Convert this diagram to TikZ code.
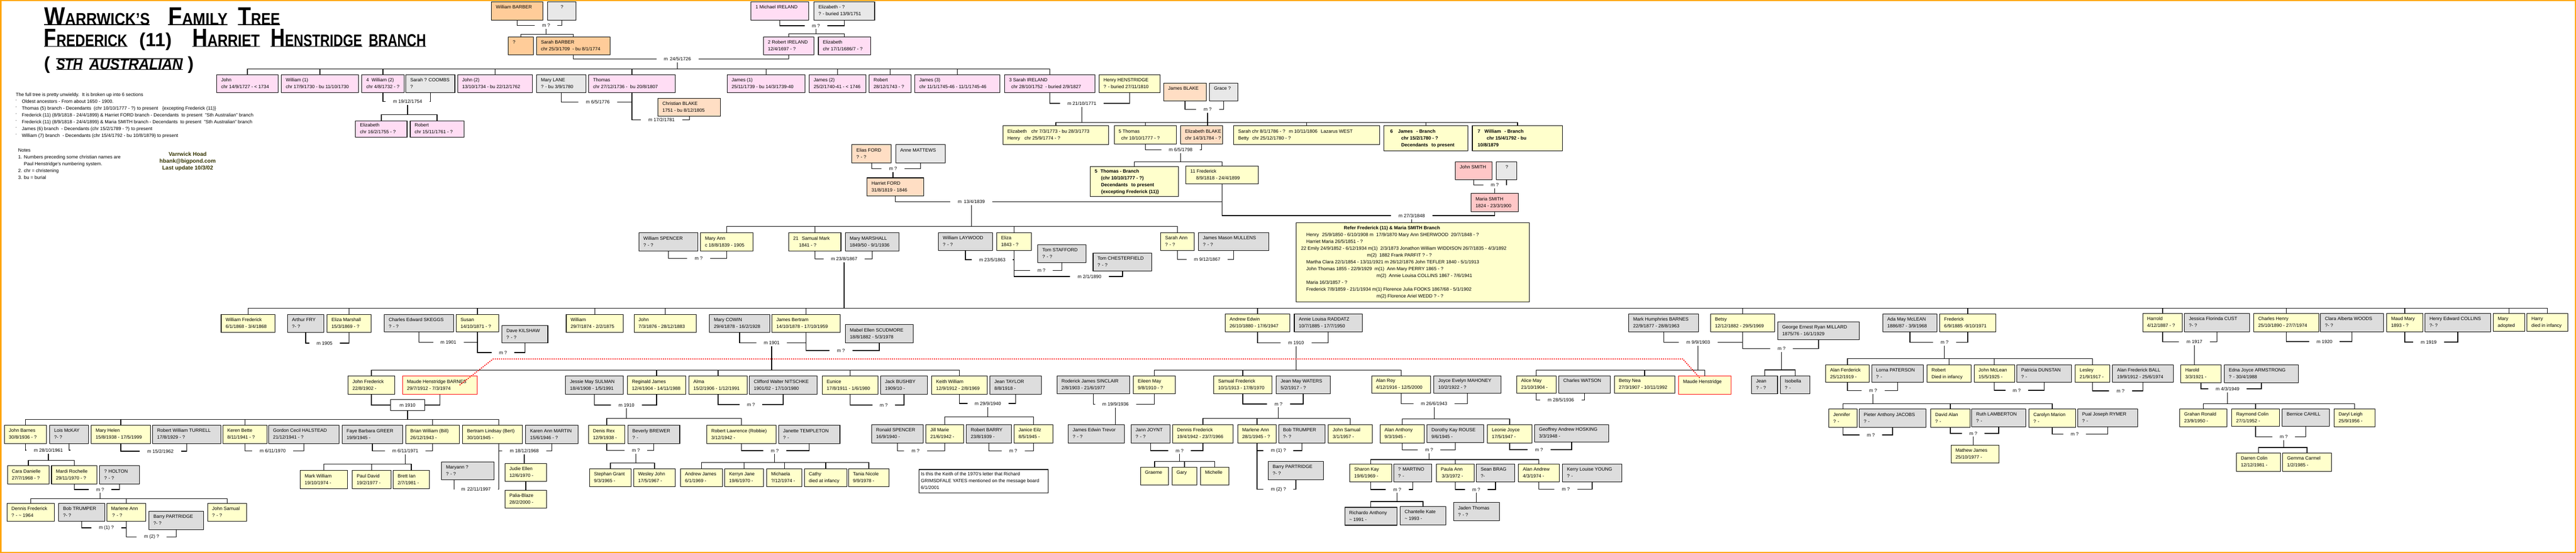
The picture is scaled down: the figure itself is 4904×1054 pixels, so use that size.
\documentclass[tikz,border=0pt]{standalone}
\usepackage{fontspec}
\setmainfont{Liberation Sans}
\usepackage{graphicx}
\usetikzlibrary{positioning}

\definecolor{pinkbox}{RGB}{255,221,244}
\definecolor{greyold}{RGB}{232,232,232}
\definecolor{greynew}{RGB}{221,221,221}
\definecolor{orangebox}{RGB}{255,204,153}
\definecolor{peachbox}{RGB}{255,222,196}
\definecolor{yellowbox}{RGB}{255,255,204}
\definecolor{smithbox}{RGB}{255,199,199}
\definecolor{frameorange}{RGB}{255,165,0}
\definecolor{olivetext}{RGB}{51,51,0}

\tikzset{
  pers/.style={rectangle,draw=black,line width=1.3pt,inner xsep=8.5pt,inner ysep=0pt,outer sep=0pt,font=\fontsize{9}{13}\selectfont},
  pk/.style={fill=pinkbox}, gra/.style={fill=greyold}, grb/.style={fill=greynew},
  org/.style={fill=orangebox}, pch/.style={fill=peachbox}, yel/.style={fill=yellowbox},
  smi/.style={fill=smithbox}, note/.style={fill=white},
  bold/.style={font=\fontsize{9}{13}\selectfont\bfseries},
  redline/.style={draw=red},
  link/.style={line width=1.3pt},
  mlab/.style={inner xsep=14pt,inner ysep=3pt,font=\fontsize{9}{13}\selectfont},
  mbox/.style={mlab,draw,fill=white,line width=1.3pt,minimum width=65pt,minimum height=20.5pt,inner xsep=2pt},
  reddot/.style={red,line width=1.8pt,dash pattern=on 2pt off 2pt},
  ttl/.style={anchor=base west,inner sep=0pt,font=\bfseries},
  txt/.style={inner sep=0pt,font=\fontsize{9}{13}\selectfont}
}

% person box: name, style, x1, y1, x2, y2, lines
\newcommand{\per}[7]{\node[pers,#2,minimum width={#5pt-#3pt},minimum height={#6pt-#4pt}] (#1) at ({(#3+#5)/2},{(#4+#6)/2}) {\makebox[\dimexpr#5pt-#3pt-17pt\relax][l]{\begin{tabular}{@{}l@{}}#7\end{tabular}}};}
% marriage label
\newcommand{\mar}[4]{\node[mlab] (#1) at (#2,#3) {#4};}
% marriage connector
\newcommand{\wed}[3]{\draw[link] (#1.south) |- (#2.west); \draw[link] (#2.east) -| (#3.south);}
% children bar: label, bar y, first, last, middle
\newcommand{\sibs}[5]{\coordinate (b#1) at (0,#2);
  \draw[link] (#1.south) -- (#1.south |- b#1);
  \draw[link] (#3.north) |- (b#1 -| #4.north) -- (#4.north);
  \foreach \kid in {#5} {\draw[link] (\kid.north) -- (\kid.north |- b#1);}}
\newcommand{\onekid}[2]{\draw[link] (#1.south) -- (#1.south |- #2.north);}
\newcommand{\bigsc}[2]{{\fontsize{48}{48}\selectfont#1}{\fontsize{32}{32}\selectfont#2}}
\newcommand{\dotmark}{\raisebox{3.5pt}{\fontsize{4}{4}\selectfont\textbullet}}

\begin{document}
\begin{tikzpicture}[x=1pt,y=-1pt]
\useasboundingbox (0,0) rectangle (4904,1054);
\draw[frameorange,line width=2.5pt] (1.25,1.25) rectangle (4902.75,1052.75);

% title
\node[ttl] (tw1) at (84,47.3) {\resizebox{201pt}{\height}{\bigsc{W}{ARRWICK'S}}};
\node[ttl] (tw2) at (320,47.3) {\resizebox{113pt}{\height}{\bigsc{F}{AMILY}}};
\node[ttl] (tw3) at (453,47.3) {\resizebox{80pt}{\height}{\bigsc{T}{REE}}};
\node[ttl] (tf1) at (83.7,88.6) {\resizebox{158.5pt}{\height}{\bigsc{F}{REDERICK}}};
\node[ttl] (tf2) at (265.7,88.6) {\resizebox{61pt}{\height}{\fontsize{36}{36}\selectfont(11)}};
\node[ttl] (tf3) at (366.1,88.6) {\resizebox{128pt}{\height}{\bigsc{H}{ARRIET}}};
\node[ttl] (tf4) at (515.2,88.6) {\resizebox{174pt}{\height}{\bigsc{H}{ENSTRIDGE}}};
\node[ttl] (tf5) at (701.9,88.6) {\resizebox{108.8pt}{\height}{\fontsize{33}{33}\selectfont BRANCH}};
\node[ttl] (ts1) at (83.7,132.5) {\fontsize{34}{34}\selectfont(};
\node[ttl] (ts2) at (107.2,132.5) {\resizebox{49.7pt}{\height}{\fontsize{29}{29}\selectfont\itshape STH}};
\node[ttl] (ts3) at (170,132.5) {\resizebox{177.8pt}{\height}{\fontsize{29}{29}\selectfont\itshape AUSTRALIAN}};
\node[ttl] (ts4) at (357.2,132.5) {\fontsize{34}{34}\selectfont)};
\foreach \w in {tw1,tw2,tw3,tf1,tf3,tf4,tf5,ts2,ts3} {\draw[line width=1.8pt] (\w.base west) -- (\w.base east);}
\foreach \w in {ts2,ts3} {\draw[line width=1.8pt] (\w.north west) -- (\w.north east);}

% notes
\node[txt,anchor=north west] (intro) at (30,173.7) {\begin{tabular}{@{}p{11.3pt}@{}l@{}}
\multicolumn{2}{@{}l@{}}{The full tree is pretty unwieldy.\ \ It is broken up into 6 sections}\\
\dotmark & Oldest ancestors - From about 1650 - 1900.\\
\dotmark & Thomas (5) branch - Decendants\ \ (chr 10/10/1777 - ?) to present\hspace{8pt}\{excepting Frederick (11)\}\\
\dotmark & Frederick (11) (8/9/1818 - 24/4/1899) \& Harriet FORD branch - Decendants\ \ to present\ \ "Sth Australian" branch\\
\dotmark & Frederick (11) (8/9/1818 - 24/4/1899) \& Maria SMITH branch - Decendants\ \ to present\ \ "Sth Australian" branch\\
\dotmark & James (6) branch\ \ - Decendants (chr 15/2/1789 - ?) to present\\
\dotmark & William (7) branch\ \ - Decendants (chr 15/4/1792 - bu 10/8/1879) to present
\end{tabular}};
\node[txt,anchor=north west] (notes) at (34.5,279.9) {\begin{tabular}{@{}p{11pt}@{}l@{}}
\multicolumn{2}{@{}l@{}}{Notes}\\
1. & Numbers preceding some christian names are\\
 & Paul Henstridge's numbering system.\\
2. & chr = christening\\
3. & bu = burial
\end{tabular}};
\node[txt,anchor=north,align=center,text=olivetext,font=\fontsize{10.5}{13}\selectfont\bfseries] (contact) at (357.2,289.5) {Varrwick Hoad\\hbank@bigpond.com\\Last update 10/3/02};

% oldest generations
\per{wbarber}{org}{935.6}{3.4}{1033.4}{38.2}{William BARBER\\~}
\per{barberw}{gra}{1042.8}{3.4}{1096.7}{38.2}{\hspace{16pt}?\\~}
\per{sbarsib}{org}{967.5}{70.3}{1015.6}{104.5}{?\\~}
\per{sbarber}{org}{1021.4}{70.3}{1161.5}{104.5}{Sarah BARBER\\chr 25/3/1709\ \ - bu 8/1/1774}
\per{mireland}{pk}{1429.8}{3.4}{1539.7}{38.2}{1 Michael IRELAND\\~}
\per{elizq}{gra}{1549.6}{3.4}{1665}{38.2}{Elizabeth - ?\\? - buried 13/9/1751}
\per{rireland}{pk}{1453.4}{70.3}{1549.6}{104.5}{2 Robert IRELAND\\12/4/1697 - ?}
\per{elizrob}{pk}{1558}{70.3}{1657.3}{104.5}{Elizabeth\\chr 17/1/1686/7 - ?}
\mar{mbarber}{1039.7}{48.5}{m ?}
\mar{mmichael}{1553.3}{49}{m ?}
\mar{m1726}{1289.7}{112.5}{m\hspace{4pt}24/5/1726}

\per{john}{pk}{412.7}{142.3}{529.3}{176.5}{John\\chr 14/9/1727 - < 1734}
\per{william1}{pk}{535.6}{142.3}{682.5}{176.5}{William (1)\\chr 17/9/1730 - bu 11/10/1730}
\per{william2}{pk}{688.8}{142.3}{769.4}{176.5}{4\ \ William (2)\\chr 4/8/1732 - ?}
\per{coombs}{gra}{772.5}{142.3}{866}{176.5}{Sarah ? COOMBS\\?}
\per{john2}{pk}{871.3}{142.3}{1013.5}{176.5}{John (2)\\13/10/1734 - bu 22/12/1762}
\per{mlane}{gra}{1021.4}{142.3}{1115.5}{176.5}{Mary LANE\\? - bu 3/9/1780}
\per{thomas}{pk}{1120.7}{142.3}{1285.5}{176.5}{Thomas\\chr 27/12/1736 -\ \ bu 20/8/1807}
\per{james1}{pk}{1384.3}{142.3}{1532.3}{176.5}{James (1)\\25/11/1739 - bu 14/3/1739-40}
\per{james2}{pk}{1540.7}{142.3}{1648.4}{176.5}{James (2)\\25/2/1740-41 - < 1746}
\per{robert}{pk}{1654.6}{142.3}{1734.7}{176.5}{Robert\\28/12/1743 - ?}
\per{james3}{pk}{1741.5}{142.3}{1903.6}{176.5}{James (3)\\chr 11/1/1745-46 - 11/1/1745-46}
\per{sireland}{pk}{1912.5}{142.3}{2084.6}{176.5}{3 Sarah IRELAND\\\hspace{4pt}chr 28/10/1752\ \ - buried 2/9/1827}
\per{hhenstridge}{yel}{2092.4}{142.3}{2208.5}{176.5}{Henry HENSTRIDGE\\? - buried 27/11/1810}
\per{cblake}{pch}{1252.5}{187.3}{1371.8}{221.4}{Christian BLAKE\\1751 - bu 8/12/1805}
\per{jblake}{pch}{2215.3}{158.2}{2296.4}{192.7}{James BLAKE\\~}
\per{grace}{gra}{2302.7}{158.2}{2356.5}{192.7}{Grace ?\\~}
\per{elizw}{pk}{676.8}{230.2}{775.1}{261.3}{Elizabeth\\chr 16/2/1755 - ?}
\per{robertw}{pk}{780.9}{230.2}{883.3}{261.3}{Robert\\chr 15/11/1761 - ?}
\mar{m1754}{776}{193.4}{m 19/12/1754}
\mar{m1776}{1138}{194.5}{m 6/5/1776}
\mar{m1781}{1259.3}{228.5}{m 17/2/1781}
\mar{m1771}{2059.5}{197}{m 21/10/1771}
\mar{mblake}{2299}{208.5}{m ?}

\per{elizhenry}{yel}{1909.3}{239.4}{2110.7}{275.5}{Elizabeth\hspace{6pt} chr 7/3/1773 - bu 28/3/1773\\Henry\hspace{6pt} chr 25/9/1774 - ?}
\per{thomas5}{yel}{2121.2}{239.4}{2239.4}{274.5}{5 Thomas\\\hspace{5pt}chr 10/10/1777 - ?}
\per{eblake}{pch}{2247.7}{239.4}{2327.8}{274.5}{Elizabeth BLAKE\\chr 14/3/1784 - ?}
\per{sarahbetty}{yel}{2348.7}{239.4}{2626.3}{275.5}{Sarah chr 8/1/1786 - ?\hspace{7pt}m 10/11/1806\hspace{4pt} Lazarus WEST\\Betty\hspace{4pt} chr 25/12/1780 - ?}
\per{james6}{yel,bold}{2634.2}{239.4}{2794.7}{287.4}{\hspace{4pt}6\hspace{10pt}James\hspace{4pt} - Branch\\\hspace{25pt}chr 15/2/1780 - ?\\\hspace{25pt}Decendants\hspace{4pt} to present}
\per{william7}{yel,bold}{2803.1}{239.4}{2974.6}{287.4}{\hspace{1.5pt}7\hspace{8pt}William\hspace{4pt} - Branch\\\hspace{18.7pt}chr 15/4/1792 - bu\\\hspace{1.5pt}10/8/1879}
\mar{m1798}{2247.7}{285.5}{m 6/5/1798}
\per{thomasbranch}{yel,bold}{2075.7}{317.8}{2243.6}{374.2}{5\hspace{6pt}Thomas - Branch\\\hspace{12pt}(chr 10/10/1777 - ?)\\\hspace{12pt}Decendants\hspace{4pt} to present\\\hspace{12pt}\{excepting Frederick (11)\}}
\per{fred11}{yel}{2257.7}{316.8}{2395.8}{350.2}{11 Frederick\\\hspace{11pt}8/9/1818 - 24/4/1899}

\per{eford}{pch}{1621.8}{275.5}{1696.5}{310.3}{Elias FORD\\? - ?}
\per{amattews}{gra}{1705.4}{275.5}{1799.5}{310.3}{Anne MATTEWS\\~}
\mar{mford}{1700}{321.5}{m ?}
\per{hford}{pch}{1650.5}{339.1}{1758.7}{373.2}{Harriet FORD\\31/8/1819 - 1846}
\per{jsmith}{smi}{2770.7}{308.3}{2840.8}{342.5}{John SMITH\\~}
\per{smithw}{gra}{2848.6}{308.3}{2887.3}{342.5}{\hspace{9pt}?\\~}
\mar{msmith}{2845.5}{352.5}{m ?}
\per{msmithb}{smi}{2800.5}{368.5}{2890.4}{403.3}{Maria SMITH\\1824 - 23/3/1900}
\mar{m1839}{1849.2}{384.5}{m\hspace{4pt}13/4/1839}
\mar{m1848}{2687.5}{411}{m 27/3/1848}
\per{refer}{yel}{2467.3}{424.3}{2911.4}{575.2}{\hspace{82.5pt}\textbf{Refer Frederick (11) \& Maria SMITH Branch}\\
\hspace{11pt}Henry\hspace{6pt}25/9/1850 - 6/10/1908 m\hspace{5pt}17/9/1870 Mary Ann SHERWOOD\hspace{5pt}20/7/1848 - ?\\
\hspace{11pt}Harriet Maria 26/5/1851 - ?\\
\hspace{1pt}22 Emily 24/9/1852 - 6/12/1934 m(1)\hspace{5pt}2/3/1873 Jonathon William WIDDISON 26/7/1835 - 4/3/1892\\
\hspace{126.5pt}m(2)\hspace{5pt}1882 Frank PARFIT ? - ?\\
\hspace{11pt}Martha Clara 22/1/1854 - 13/11/1921 m 26/12/1876 John TEFLER 1840 - 5/1/1913\\
\hspace{11pt}John Thomas 1855 - 22/9/1929\hspace{5pt}m(1)\hspace{5pt}Ann Mary PERRY 1865 - ?\\
\hspace{144.8pt}m(2)\hspace{5pt}Annie Louisa COLLINS 1867 - 7/6/1941\\
\hspace{11pt}Maria 16/3/1857 - ?\\
\hspace{11pt}Frederick 7/8/1859 - 21/1/1934 m(1) Florence Julia FOOKS 1867/68 - 5/1/1902\\
\hspace{144.8pt}m(2) Florence Ariel WEDD ? - ?}

% Frederick & Harriet FORD children
\per{wspencer}{grb}{1216.4}{443.5}{1328.4}{478.4}{William SPENCER\\? - ?}
\per{maryann}{yel}{1333.6}{443.5}{1433.5}{478.4}{Mary Ann\\c 18/8/1839 - 1905}
\mar{mspencer}{1330}{492.5}{m ?}
\per{samual}{yel}{1501.5}{443.5}{1600.9}{478.4}{21\hspace{4pt} Samual Mark\\\hspace{11pt}1841 - ?}
\per{mmarshall}{grb}{1609.2}{443.5}{1711.7}{478.4}{Mary MARSHALL\\1849/50 - 9/1/1936}
\mar{m1867a}{1607}{493.5}{m 23/8/1867}
\per{laywood}{grb}{1786.4}{443.5}{1889.5}{477.3}{William LAYWOOD\\? - ?}
\per{eliza}{yel}{1897.3}{443.5}{1963.7}{477.3}{Eliza\\1843 - ?}
\mar{m1863}{1889}{495}{m 23/5/1863}
\per{stafford}{grb}{1975.8}{466.5}{2067.3}{500.3}{Tom STAFFORD\\? - ?}
\mar{mstafford}{1982.6}{515.5}{m ?}
\per{chesterfield}{grb}{2080.9}{482.8}{2192.8}{516.6}{Tom CHESTERFIELD\\? - ?}
\mar{m1890}{2074}{527}{m 2/1/1890}
\per{sarahann}{yel}{2209.6}{443.5}{2273.4}{477.3}{Sarah Ann\\? - ?}
\per{mullens}{grb}{2281.7}{443.5}{2415.6}{477.3}{James Mason MULLENS\\? - ?}
\mar{m1867b}{2298}{494.5}{m 9/12/1867}

% Samual Mark & Mary MARSHALL children
\per{wfred}{yel}{421}{599.4}{523.4}{633.4}{William Frederick\\6/1/1868 - 3/4/1868}
\per{afry}{grb}{547.4}{599.4}{616.8}{633.4}{Arthur FRY\\?- ?}
\per{elizam}{yel}{622.5}{599.4}{706.5}{633.4}{Eliza Marshall\\15/3/1869 - ?}
\mar{m1905}{617.8}{654}{m 1905}
\per{skeggs}{grb}{731.5}{599.4}{863.2}{632.4}{Charles Edward SKEGGS\\? - ?}
\per{susan}{yel}{868.3}{599.4}{949.5}{632.4}{Susan\\14/10/1871 - ?}
\mar{m1901a}{853.7}{652.8}{m 1901}
\per{kilshaw}{grb}{955.7}{620.5}{1043}{653.5}{Dave KILSHAW\\? - ?}
\mar{mkilshaw}{957.5}{672}{m ?}
\per{william}{yel}{1077.9}{599.4}{1186.5}{633.4}{William\\29/7/1874 - 2/2/1875}
\per{john3}{yel}{1207.2}{599.4}{1325.7}{633.4}{John\\7/3/1876 - 28/12/1883}
\per{mcowin}{grb}{1350.7}{599.4}{1465.4}{633.4}{Mary COWIN\\29/4/1878 - 16/2/1928}
\per{jbertram}{yel}{1469.6}{599.4}{1599.4}{633.4}{James Bertram\\14/10/1878 - 17/10/1959}
\mar{m1901b}{1469.1}{653.5}{m 1901}
\per{scudmore}{grb}{1609.3}{618.4}{1738.6}{653.5}{Mabel Ellen SCUDMORE\\18/8/1882 - 5/3/1978}
\mar{mscud}{1600.8}{668}{m ?}
\per{aedwin}{yel}{2332.3}{598.3}{2455.5}{632.4}{Andrew Edwin\\26/10/1880 - 17/6/1947}
\per{raddatz}{grb}{2464}{598.3}{2593.3}{632.4}{Annie Louisa RADDATZ\\10/7/1885 - 17/7/1950}
\mar{m1910c}{2467.3}{653.5}{m 1910}
\per{mbarnes}{grb}{3100.6}{598.3}{3233.7}{632.4}{Mark Humphries BARNES\\22/9/1877 - 28/8/1963}
\per{betsy}{yel}{3256.4}{598.3}{3378.4}{632.4}{Betsy\\12/12/1882 - 29/5/1969}
\mar{m1903}{3232.8}{652.5}{m 9/9/1903}
\per{millard}{grb}{3384.4}{613.3}{3539.6}{647.7}{George Ernest Ryan MILLARD\\1875/76 - 16/1/1929}
\mar{mmillard}{3391.5}{664.5}{m ?}
\per{amclean}{grb}{3584.4}{598.3}{3687.7}{632.4}{Ada May McLEAN\\1886/87 - 3/9/1968}
\per{frederick}{yel}{3692.7}{598.3}{3799.5}{632.4}{Frederick\\6/9/1885 -9/10/1971}
\mar{mmclean}{3701.8}{652.5}{m ?}
\per{harrold}{yel}{4079.1}{597.3}{4154.5}{632.4}{Harrold\\4/12/1887 - ?}
\per{cust}{grb}{4158.5}{597.3}{4282.5}{632.4}{Jessica Florinda CUST\\?- ?}
\mar{m1917}{4177.5}{651.5}{m 1917}
\per{chenry}{yel}{4290.5}{597.3}{4414.5}{632.4}{Charles Henry\\25/10/1890 - 27/7/1974}
\per{woods}{grb}{4417.5}{597.3}{4537.5}{632.4}{Clara Alberta WOODS\\?- ?}
\mar{m1920}{4425}{651}{m 1920}
\per{maudm}{yel}{4543.5}{597.3}{4612.5}{632.4}{Maud Mary\\1893 - ?}
\per{collins}{grb}{4616.5}{597.3}{4741.5}{632.4}{Henry Edward COLLINS\\?- ?}
\mar{m1919}{4623.5}{652}{m 1919}
\per{maryad}{yel}{4746.5}{597.3}{4806.5}{631.4}{Mary\\adopted}
\per{harry}{yel}{4810.5}{597.3}{4888.5}{631.4}{Harry\\died in infancy}

% next generation
\per{johnf}{yel}{662.6}{716.5}{751.3}{751.6}{John Frederick\\22/8/1902 -}
\per{maudeb}{yel,redline}{766.4}{716.5}{908.5}{751.6}{Maude Henstridge BARNES\\29/7/1912 - 7/3/1974}
\node[mbox] (m1910a) at (775.85,772.05) {m 1910};
\per{sulman}{grb}{1076.5}{716.5}{1186.5}{751.6}{Jessie May SULMAN\\18/4/1908 - 1/5/1991}
\per{reginald}{yel}{1194.5}{716.5}{1305.4}{751.6}{Reginald James\\12/4/1904 - 14/11/1988}
\mar{m1910b}{1192.6}{772}{m 1910}
\per{alma}{yel}{1311.5}{716.5}{1422.4}{751.6}{Alma\\15/2/1906 - 1/12/1991}
\per{nitschke}{grb}{1426.7}{716.5}{1555.5}{751.6}{Clifford Walter NITSCHKE\\1901/02 - 17/10/1980}
\mar{malma}{1429.5}{771}{m ?}
\per{eunice}{yel}{1565.4}{716.5}{1671.6}{751.6}{Eunice\\17/8/1911 - 1/6/1980}
\per{bushby}{grb}{1676.3}{716.5}{1765.5}{751.6}{Jack BUSHBY\\1909/10 -}
\mar{meunice}{1682.4}{772}{m ?}
\per{keith}{yel}{1773.5}{716.5}{1879.3}{751.6}{Keith William\\12/9/1912 - 2/8/1969}
\per{jtaylor}{grb}{1884.5}{716.5}{1982.6}{751.6}{Jean TAYLOR\\8/8/1918 -}
\mar{m1940}{1880.7}{769}{m 29/9/1940}
\per{sinclair}{grb}{2012.3}{716.5}{2150.6}{750.6}{Roderick James SINCLAIR\\2/8/1903 - 21/6/1977}
\per{eileen}{yel}{2157.7}{716.5}{2237.4}{750.6}{Eileen May\\9/8/1910 - ?}
\mar{m1936a}{2123.7}{770.5}{m 19/9/1936}
\per{samfred}{yel}{2310.6}{716.5}{2421.5}{750.6}{Samual Frederick\\10/1/1913 - 17/8/1970}
\per{waters}{grb}{2429.5}{716.5}{2532.4}{750.6}{Jean May WATERS\\5/2/1917 - ?}
\mar{mwaters}{2433.8}{770}{m ?}
\per{alanroy}{yel}{2611.2}{716.5}{2723.6}{749.2}{Alan Roy\\4/12/1916 - 12/5/2000}
\per{mahoney}{grb}{2729.7}{716.5}{2857.6}{749.2}{Joyce Evelyn MAHONEY\\10/2/1922 - ?}
\mar{m1943}{2730.2}{769.5}{m 26/6/1943}
\per{alicem}{yel}{2887.3}{716.5}{2962.3}{749.2}{Alice May\\21/10/1904 -}
\per{watson}{grb}{2967.5}{716.5}{3065.7}{749.2}{Charles WATSON\\~}
\mar{m1936b}{2971.3}{762.5}{m 28/5/1936}
\per{betsynea}{yel}{3073.3}{716.5}{3188.4}{749.2}{Betsy Nea\\27/3/1907 - 10/11/1992}
\per{maude}{yel,redline}{3195.5}{716.5}{3295.5}{751.6}{Maude Henstridge\\~}
\per{jeanm}{grb}{3334.5}{716.5}{3383.9}{750.2}{Jean\\? - ?}
\per{isobella}{grb}{3389.4}{716.5}{3445.4}{750.2}{Isobella\\? -}
\per{alanfer}{yel}{3475.6}{695.4}{3558.2}{728.4}{Alan Ferderick\\25/12/1919 -}
\per{paterson}{grb}{3563.2}{695.4}{3661.5}{728.4}{Lorna PATERSON\\? -}
\mar{mpaterson}{3565.8}{744.5}{m ?}
\per{robertd}{yel}{3668.5}{695.4}{3752.2}{728.4}{Robert\\Died in infancy}
\per{jmclean}{yel}{3758.2}{695.4}{3835.3}{728.4}{John McLean\\15/5/1925 -}
\per{dunstan}{grb}{3839.3}{695.4}{3943.6}{728.4}{Patricia DUNSTAN\\? -}
\mar{mdunstan}{3839.3}{744}{m ?}
\per{lesley}{yel}{3950.7}{695.4}{4016.1}{728.4}{Lesley\\21/9/1917 -}
\per{ball}{grb}{4021.7}{695.4}{4137.5}{728.4}{Alan Frederick BALL\\19/9/1912 - 25/6/1974}
\mar{mball}{4036.8}{745}{m ?}
\per{harold}{yel}{4151.5}{695.4}{4228.5}{729.5}{Harold\\3/3/1921 -}
\per{armstrong}{grb}{4234.5}{695.4}{4375.5}{729.5}{Edna Joyce ARMSTRONG\\? - 30/4/1988}
\mar{m1949}{4240.5}{741}{m 4/3/1949}

% John Frederick & Maude line
\per{jbarnes}{yel}{8.3}{810.3}{88.6}{845.3}{John Barnes\\30/8/1936 - ?}
\per{mckay}{grb}{94.5}{810.3}{168.4}{845.3}{Lois McKAY\\?- ?}
\mar{m1961}{92.1}{858}{m 28/10/1961}
\per{maryhelen}{yel}{173.6}{810.3}{286.3}{845.3}{Mary Helen\\15/8/1938 - 17/5/1999}
\per{turrell}{grb}{290.6}{810.3}{420.3}{845.3}{Robert William TURRELL\\17/8/1929 - ?}
\mar{m1962}{305.3}{860}{m 15/2/1962}
\per{keren}{yel}{424.3}{810.3}{508.5}{845.3}{Keren Bette\\8/11/1941 - ?}
\per{halstead}{grb}{511.3}{810.3}{645.6}{845.3}{Gordon Cecil HALSTEAD\\21/12/1941 - ?}
\mar{m1970a}{519.2}{859.2}{m 6/11/1970}
\per{greer}{grb}{651.3}{810.5}{766.4}{845.3}{Faye Barbara GREER\\19/9/1945 -}
\per{brian}{yel}{772.6}{810.5}{874.5}{845.3}{Brian William (Bill)\\26/12/1943 -}
\mar{m1971}{771.6}{859.5}{m 6/11/1971}
\per{bertram}{yel}{880.6}{810.5}{994.3}{845.3}{Bertram Lindsay (Bert)\\30/10/1945 -}
\per{martin}{grb}{1000.5}{810.5}{1100.5}{845.3}{Karen Ann MARTIN\\15/6/1946 - ?}
\mar{m1968}{998.1}{859.2}{m 18/12/1968}
\per{maryann2}{grb}{840.5}{880.4}{940.6}{914.4}{Maryann ?\\? - ?}
\mar{m1997}{906.1}{932.5}{m\hspace{4pt}22/11/1997}
\per{markw}{yel}{571.5}{896.4}{661.6}{931.5}{Mark William\\19/10/1974 -}
\per{pauld}{yel}{670.6}{896.4}{744.7}{931.5}{Paul David\\19/2/1977 -}
\per{brett}{yel}{748.5}{896.4}{817.4}{931.5}{Brett Ian\\2/7/1981 -}
\per{judie}{yel}{961.3}{883.8}{1040.6}{917.5}{Judie Ellen\\12/6/1970 -}
\per{palia}{yel}{961.3}{934.5}{1040.6}{968.2}{Palia-Blaze\\28/2/2000 -}
\per{cara}{yel}{14.2}{887.3}{93.7}{922.7}{Cara Danielle\\27/7/1968 - ?}
\per{mardi}{yel}{98.1}{887.3}{184.7}{922.7}{Mardi Rochelle\\29/11/1970 - ?}
\per{holton}{grb}{189.8}{887.3}{265.7}{922.7}{? HOLTON\\? - ?}
\mar{mholton}{190.6}{933}{m ?}
\per{dennisb}{yel}{13.4}{959.3}{103.6}{993.7}{Dennis Frederick\\? - \textasciitilde{} 1964}
\per{trumperb}{grb}{111.5}{959.3}{199.3}{993.7}{Bob TRUMPER\\?- ?}
\per{marleneb}{yel}{203.2}{959.3}{277.6}{993.7}{Marlene Ann\\\hspace{2pt}? - ?}
\per{partridgeb}{grb}{283.5}{974.3}{387.5}{1009.3}{Barry PARTRIDGE\\?- ?}
\per{jsamualb}{yel}{395.4}{959.3}{469.7}{993.7}{John Samual\\? - ?}
\mar{m1tb}{202.5}{1006}{m (1) ?}
\mar{m2pb}{288.6}{1023.5}{m (2) ?}

% Reginald, Keith, Samual Frederick, Alan Roy lines
\per{denis}{yel}{1120.4}{810.5}{1189.3}{845.3}{Denis Rex\\12/9/1938 -}
\per{brewer}{grb}{1195.4}{810.5}{1294}{845.3}{Beverly BREWER\\? -}
\mar{mbrewer}{1210.5}{858.5}{m ?}
\per{robertl}{yel}{1345.5}{810.5}{1477.2}{845.3}{Robert Lawrence (Robbie)\\3/12/1942 -}
\per{templeton}{grb}{1482.3}{810.5}{1598.9}{845.3}{Janette TEMPLETON\\? -}
\mar{mtempleton}{1474.8}{859}{m ?}
\per{stephan}{yel}{1122.3}{893.3}{1201.6}{927.4}{Stephan Grant\\9/3/1965 -}
\per{wesley}{yel}{1206.3}{893.3}{1285.6}{927.4}{Wesley John\\17/5/1967 -}
\per{andrewj}{yel}{1295.5}{893.3}{1375.7}{927.4}{Andrew James\\6/1/1969 -}
\per{kerryn}{yel}{1379.5}{893.3}{1453.6}{927.4}{Kerryn Jane\\19/6/1970 -}
\per{michaela}{yel}{1459.7}{893.3}{1526.7}{927.4}{Michaela\\?/12/1974 -}
\per{cathy}{yel}{1531.4}{893.3}{1612.6}{927.4}{Cathy\\died at infancy}
\per{tania}{yel}{1615.4}{893.3}{1692.4}{927.4}{Tania Nicole\\9/9/1978 -}
\per{rspencer}{grb}{1659.3}{809.5}{1757.5}{844.2}{Ronald SPENCER\\16/9/1940 -}
\per{jill}{yel}{1762.7}{809.5}{1834.4}{844.2}{Jill Marie\\21/6/1942 -}
\mar{mjill}{1742.8}{859.4}{m ?}
\per{rbarry}{grb}{1839.6}{809.5}{1925.5}{844.2}{Robert BARRY\\23/8/1939 -}
\per{janice}{yel}{1930.7}{809.5}{2004.3}{844.2}{Janice Eilz\\8/5/1945 -}
\mar{mjanice}{1928.8}{859.5}{m ?}
\per{keithnote}{note}{1749.5}{895}{1995.4}{939.3}{\hspace{-5pt}Is this the Keith of the 1970's letter that Richard\\\hspace{-5pt}GRIMSDFALE YATES mentioned on the message board\\\hspace{-5pt}6/1/2001}
\per{jetrevor}{grb}{2033.6}{809.5}{2140.7}{844.2}{James Edwin Trevor\\? - ?}
\per{jjoynt}{grb}{2153.4}{809.5}{2227.5}{844.2}{Jann JOYNT\\? - ?}
\per{dennis}{yel}{2232.3}{809.5}{2347.4}{844.2}{Dennis Frederick\\19/4/1942 - 23/7/1966}
\mar{mjoynt}{2245.5}{859}{m ?}
\per{marlene}{yel}{2356.4}{809.5}{2429.5}{844.2}{Marlene Ann\\28/1/1945 - ?}
\per{trumper}{grb}{2434.2}{809.5}{2522.5}{844.2}{Bob TRUMPER\\?- ?}
\mar{m1t}{2433.8}{859}{m (1) ?}
\per{partridge}{grb}{2414.4}{879.3}{2519.6}{914.4}{Barry PARTRIDGE\\?- ?}
\mar{m2p}{2433.8}{932.8}{m (2) ?}
\per{jsamual}{yel}{2528.6}{809.5}{2612.7}{844.2}{John Samual\\3/1/1957 -}
\per{graeme}{yel}{2171.4}{890.2}{2224.7}{924.3}{Graeme\\~}
\per{gary}{yel}{2231.3}{890.2}{2278.5}{924.3}{Gary\\~}
\per{michelle}{yel}{2285.6}{890.2}{2339.4}{924.3}{Michelle\\~}
\per{alanant}{yel}{2627.3}{809.5}{2711.3}{844.2}{Alan Anthony\\9/3/1945 -}
\per{rouse}{grb}{2716.5}{809.5}{2824.5}{843.2}{Dorothy Kay ROUSE\\9/6/1945 -}
\mar{mrouse}{2720.7}{857.5}{m ?}
\per{leonie}{yel}{2831.6}{809.5}{2916.6}{844.2}{Leonie Joyce\\17/5/1947 -}
\per{hosking}{grb}{2921.3}{809.5}{3062.4}{842.2}{Geoffrey Andrew HOSKING\\3/3/1948 -}
\mar{mhosking}{2929.8}{857}{m ?}
\per{sharon}{yel}{2569.7}{884.4}{2649.5}{918.5}{Sharon Kay\\19/6/1969 -}
\per{martino}{grb}{2653.2}{884.4}{2725.4}{918.5}{? MARTINO\\? -}
\mar{mmartino}{2659.8}{933}{m ?}
\per{paula}{yel}{2734.4}{884.4}{2806.6}{918.5}{Paula Ann\\\hspace{2pt}3/3/1972 -}
\per{brag}{grb}{2810.4}{884.4}{2883.5}{918.5}{Sean BRAG\\?-}
\mar{mbrag}{2810.4}{933}{m ?}
\per{alanandrew}{yel}{2890.6}{884.4}{2968.5}{918.5}{Alan Andrew\\4/3/1974 -}
\per{young}{grb}{2974.6}{884.4}{3087.4}{918.5}{Kerry Louise YOUNG\\? -}
\mar{myoung}{2980.8}{932.5}{m ?}
\per{richardo}{grb}{2560.2}{966.9}{2659.4}{1000.9}{Richardo Anthony\\\textasciitilde{} 1991 -}
\per{chantelle}{grb}{2665.5}{965.5}{2752.3}{1000.2}{Chantelle Kate\\\textasciitilde{} 1993 -}
\per{jaden}{grb}{2767.4}{957.7}{2854.3}{992.4}{Jaden Thomas\\? - ?}

% Frederick & Ada, Harold lines
\per{jennifer}{yel}{3481.6}{779.5}{3535.5}{814.3}{Jennifer\\? -}
\per{jacobs}{grb}{3539.6}{779.5}{3666.5}{814.3}{Pieter Anthony JACOBS\\? -}
\mar{mjacobs}{3561.7}{829}{m ?}
\per{davida}{yel}{3675.6}{779.5}{3750.6}{814.3}{David Alan\\? -}
\per{lamberton}{grb}{3753.7}{779.5}{3856.5}{813.3}{Ruth LAMBERTON\\? -}
\mar{mlamberton}{3756.7}{826}{m ?}
\per{mathew}{yel}{3714.4}{848.3}{3805.6}{882.4}{Mathew James\\25/10/1977 -}
\per{carolyn}{yel}{3862.5}{779.5}{3951.7}{814.3}{Carolyn Marion\\? -}
\per{rymer}{grb}{3955.2}{779.5}{4069.5}{813.3}{Pual Joseph RYMER\\? -}
\mar{mrymer}{3949.6}{827.5}{m ?}
\per{grahan}{yel}{4149.5}{779.5}{4239.5}{813.3}{Grahan Ronald\\23/9/1950 -}
\per{raymond}{yel}{4248.5}{779.5}{4339.5}{812.3}{Raymond Colin\\27/1/1952 -}
\per{cahill}{grb}{4344.5}{779.5}{4434.5}{812.3}{Bernice CAHILL\\~}
\per{daryl}{yel}{4443.5}{779.5}{4521.5}{813.3}{Daryl Leigh\\25/9/1956 -}
\mar{mcahill}{4347.5}{832.5}{m ?}
\per{darren}{yel}{4257.5}{863.3}{4341.5}{898.4}{Darren Colin\\12/12/1981 -}
\per{gemma}{yel}{4345.5}{863.3}{4438.5}{898.4}{Gemma Carmel\\1/2/1985 -}

% marriages
\wed{wbarber}{mbarber}{barberw}
\wed{mireland}{mmichael}{elizq}
\wed{sbarber}{m1726}{rireland}
\wed{william2}{m1754}{coombs}
\draw[link] (mlane.south) |- (m1776.west); \draw[link] (m1776.east) -- (m1776.east -| thomas.south);
\wed{thomas}{m1781}{cblake}
\wed{sireland}{m1771}{hhenstridge}
\wed{jblake}{mblake}{grace}
\wed{thomas5}{m1798}{eblake}
\wed{eford}{mford}{amattews}
\wed{jsmith}{msmith}{smithw}
\draw[link] (hford.south) |- (m1839.west); \draw[link] (m1839.east) -- (m1839.east -| fred11.south);
\wed{fred11}{m1848}{msmithb}
\wed{wspencer}{mspencer}{maryann}
\wed{samual}{m1867a}{mmarshall}
\draw[link] (laywood.south) |- (m1863.west); \draw[link] (m1863.east) -- (m1863.east -| eliza.south);
\wed{eliza}{m1890}{chesterfield}
\draw[link] (mstafford.west -| eliza.south) -- (mstafford.west); \draw[link] (mstafford.east) -| (stafford.south);
\wed{sarahann}{m1867b}{mullens}
\wed{afry}{m1905}{elizam}
\draw[link] (skeggs.south) |- (m1901a.west); \draw[link] (m1901a.east) -- (m1901a.east -| susan.south);
\wed{susan}{mkilshaw}{kilshaw}
\draw[link] (mcowin.south) |- (m1901b.west); \draw[link] (m1901b.east) -- (m1901b.east -| jbertram.south);
\wed{jbertram}{mscud}{scudmore}
\wed{aedwin}{m1910c}{raddatz}
\draw[link] (mbarnes.south) |- (m1903.west); \draw[link] (m1903.east) -- (m1903.east -| betsy.south);
\wed{betsy}{mmillard}{millard}
\wed{amclean}{mmclean}{frederick}
\wed{harrold}{m1917}{cust}
\wed{chenry}{m1920}{woods}
\wed{maudm}{m1919}{collins}
\wed{johnf}{m1910a}{maudeb}
\wed{sulman}{m1910b}{reginald}
\wed{alma}{malma}{nitschke}
\wed{eunice}{meunice}{bushby}
\wed{keith}{m1940}{jtaylor}
\wed{sinclair}{m1936a}{eileen}
\wed{samfred}{mwaters}{waters}
\wed{alanroy}{m1943}{mahoney}
\wed{alicem}{m1936b}{watson}
\wed{alanfer}{mpaterson}{paterson}
\wed{jmclean}{mdunstan}{dunstan}
\wed{lesley}{mball}{ball}
\wed{harold}{m1949}{armstrong}
\wed{jbarnes}{m1961}{mckay}
\wed{maryhelen}{m1962}{turrell}
\wed{keren}{m1970a}{halstead}
\wed{greer}{m1971}{brian}
\coordinate (bertS) at ([xshift=12pt]bertram.south);
\coordinate (bertN) at ([xshift=12pt]bertram.north);
\coordinate (mary2S) at ([xshift=-26pt]maryann2.south);
\draw[link] (m1968.west -| bertS) -- (m1968.west); \draw[link] (m1968.east) -| (martin.south);
\draw[link] (bertS) |- (m1997.east); \draw[link] (m1997.west) -| (mary2S);
\wed{mardi}{mholton}{holton}
\draw[link] (trumperb.south) |- (m1tb.west); \draw[link] (m1tb.east) -- (m1tb.east -| marleneb.south);
\wed{marleneb}{m2pb}{partridgeb}
\wed{denis}{mbrewer}{brewer}
\wed{robertl}{mtempleton}{templeton}
\wed{rspencer}{mjill}{jill}
\wed{rbarry}{mjanice}{janice}
\wed{jjoynt}{mjoynt}{dennis}
\draw[link] (m1t.west -| marlene.south) -- (m1t.west); \draw[link] (m1t.east) -| (trumper.south);
\wed{marlene}{m2p}{partridge}
\wed{alanant}{mrouse}{rouse}
\wed{leonie}{mhosking}{hosking}
\wed{sharon}{mmartino}{martino}
\wed{paula}{mbrag}{brag}
\wed{alanandrew}{myoung}{young}
\wed{jennifer}{mjacobs}{jacobs}
\wed{davida}{mlamberton}{lamberton}
\wed{carolyn}{mrymer}{rymer}
\wed{raymond}{mcahill}{cahill}

% children
\sibs{mbarber}{65.2}{sbarsib}{sbarber}{sbarsib}
\sibs{mmichael}{64.2}{rireland}{elizrob}{rireland}
\sibs{m1726}{131.2}{john}{sireland}{william1,william2,john2,thomas,james1,james2,robert,james3}
\sibs{m1754}{218.7}{elizw}{robertw}{elizw}
\sibs{m1771}{233.3}{elizhenry}{william7}{thomas5,sarahbetty,james6}
\sibs{m1798}{308.3}{thomasbranch}{fred11}{fred11}
\sibs{m1839}{431.4}{maryann}{sarahann}{samual,eliza}
\sibs{m1867a}{587.4}{wfred}{harry}{elizam,susan,william,john3,jbertram,aedwin,betsy,frederick,harrold,chenry,maudm,maryad}
\sibs{m1901b}{705.3}{johnf}{keith}{reginald,alma,eunice}
\sibs{m1910c}{705.3}{eileen}{alanroy}{samfred}
\sibs{m1903}{705.3}{alicem}{maude}{betsynea}
\sibs{mmillard}{705}{jeanm}{isobella}{jeanm}
\sibs{mmclean}{683.5}{alanfer}{lesley}{robertd,jmclean}
\sibs{m1910b}{797.6}{denis}{robertl}{denis}
\sibs{m1940}{794.2}{jill}{janice}{jill}
\sibs{mwaters}{797.6}{dennis}{jsamual}{marlene}
\sibs{m1943}{798.3}{alanant}{leonie}{alanant}
\sibs{mpaterson}{769.3}{jennifer}{carolyn}{davida}
\sibs{m1949}{769.3}{grahan}{daryl}{raymond}
\sibs{m1961}{877.3}{cara}{mardi}{cara}
\sibs{m1971}{884.4}{markw}{brett}{pauld}
\sibs{mbrewer}{882.4}{stephan}{wesley}{stephan}
\sibs{mtempleton}{881.4}{andrewj}{tania}{kerryn,michaela,cathy}
\sibs{mjoynt}{879.3}{graeme}{michelle}{gary}
\sibs{mrouse}{875.9}{sharon}{alanandrew}{paula}
\sibs{mholton}{950.3}{dennisb}{jsamualb}{marleneb}
\sibs{mmartino}{956}{richardo}{chantelle}{richardo}
\sibs{mcahill}{853.1}{darren}{gemma}{darren}
\coordinate (bm1910a) at (0,799.3);
\draw[link] (m1910a.south) -- (m1910a.south |- bm1910a);
\draw[link] (jbarnes.north) |- (bm1910a -| bertN) -- (bertN);
\foreach \kid in {maryhelen,keren,brian} {\draw[link] (\kid.north) -- (\kid.north |- bm1910a);}
\onekid{mblake}{eblake}
\onekid{mford}{hford}
\onekid{msmith}{msmithb}
\onekid{m1848}{refer}
\onekid{m1917}{harold}
\onekid{m1936a}{jetrevor}
\onekid{m1968}{judie}
\onekid{mbrag}{jaden}
\onekid{mlamberton}{mathew}
\draw[link] (judie.south) -- (palia.north);

% the two Maude Henstridge boxes
\coordinate (redA) at (938.7,684.2);
\coordinate (redB) at (3203.5,684.2);
\draw[reddot] ([xshift=37.5pt]maudeb.center) -- (redA) -- (redB) -- ([xshift=-9pt,yshift=13pt]maude.center);
\end{tikzpicture}
\end{document}
